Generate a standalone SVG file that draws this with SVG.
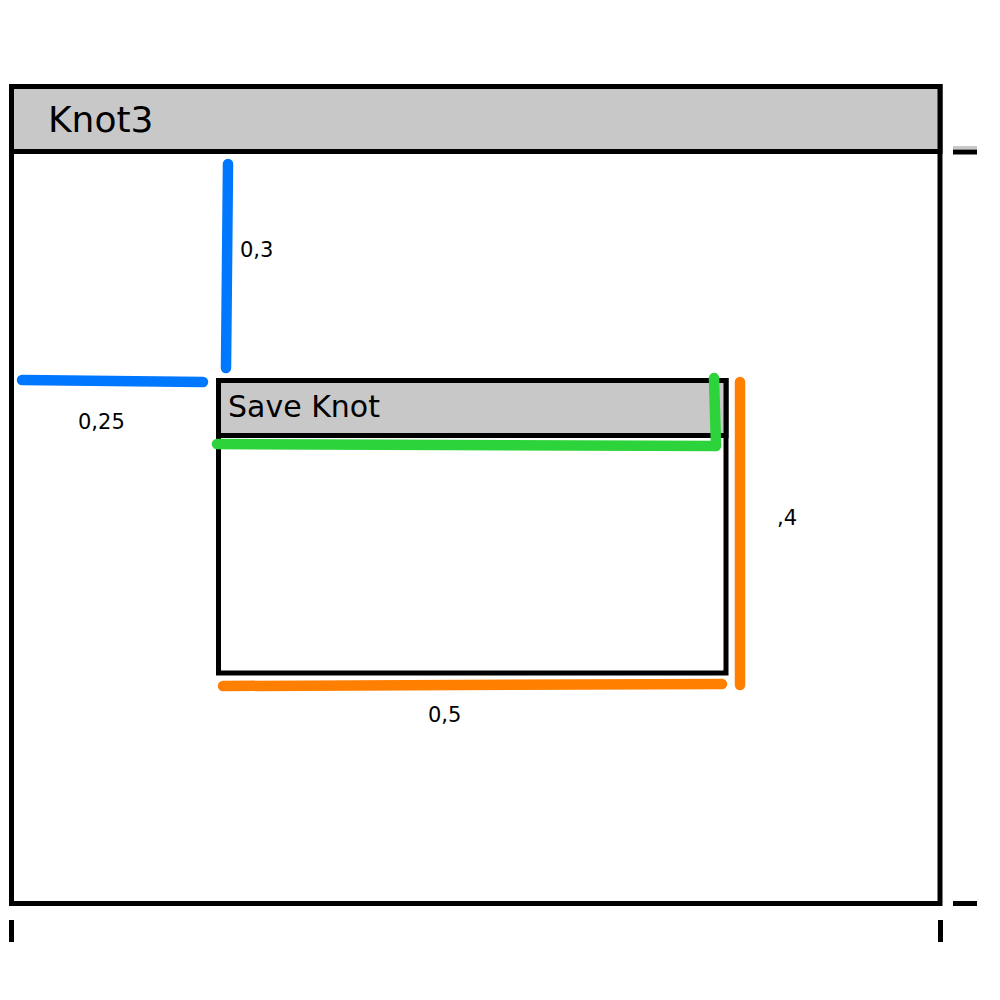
<svg xmlns="http://www.w3.org/2000/svg" width="1000" height="1000" viewBox="0 0 1000 1000">
<style>
.box{fill:#fff;stroke:#000;stroke-width:5}
.hdr{fill:#c8c8c8;stroke:#000;stroke-width:5}
.ttl{font-family:"DejaVu Sans",sans-serif;fill:#000}
.lbl{font-family:"DejaVu Sans",sans-serif;font-size:21px;fill:#000}
.blue{stroke:#0077ff;stroke-width:10.5;stroke-linecap:round;fill:none}
.green{stroke:#2dd33a;stroke-width:10.5;stroke-linecap:round;stroke-linejoin:round;fill:none}
.orange{stroke:#ff7f00;stroke-width:10.5;stroke-linecap:round;fill:none}
.tick{stroke:#000;stroke-width:5}
</style>
<rect x="0" y="0" width="1000" height="1000" fill="#fff"/>
<g id="knot3">
<rect class="box" x="11.5" y="86.5" width="928.5" height="817"/>
<rect class="hdr" x="11.5" y="86.5" width="928.5" height="65"/>
<text class="ttl" x="48" y="132" font-size="36">Knot3</text>
</g>
<g id="saveknot">
<rect class="box" x="218.5" y="380.5" width="507.5" height="292.5" stroke-width="4.5"/>
<rect class="hdr" x="218.5" y="380.5" width="507.5" height="55" stroke-width="4.5"/>
<text class="ttl" x="228" y="417" font-size="30">Save Knot</text>
</g>
<g id="ticks">
<rect x="953" y="146" width="24" height="3" fill="#c8c8c8"/>
<line class="tick" x1="953" y1="152" x2="977" y2="152"/>
<line class="tick" x1="953" y1="903.5" x2="977" y2="903.5"/>
<line class="tick" x1="11.5" y1="920" x2="11.5" y2="942"/>
<line class="tick" x1="940.5" y1="920" x2="940.5" y2="942"/>
</g>
<g id="connectors">
<path class="blue" d="M228,164 L226,368"/>
<path class="blue" d="M22,380 L203,382"/>
<path class="green" d="M217,444 L716,446 L714,378"/>
<path class="orange" d="M740,382 L740,685"/>
<path class="orange" d="M223,686 L722,684"/>
</g>
<g id="labels">
<text class="lbl" x="240" y="257">0,3</text>
<text class="lbl" x="78" y="429">0,25</text>
<text class="lbl" x="777" y="525">,4</text>
<text class="lbl" x="428" y="722">0,5</text>
</g>
</svg>
